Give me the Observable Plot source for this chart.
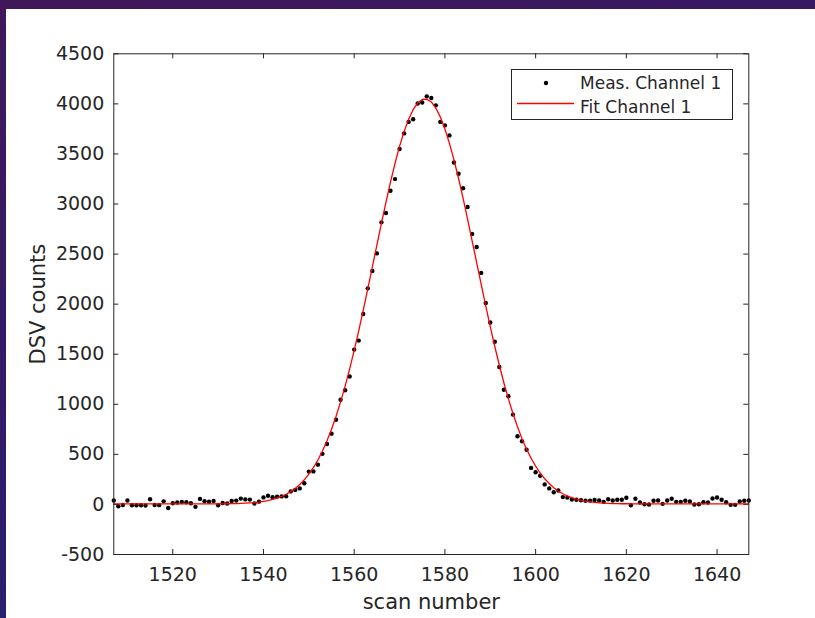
<!DOCTYPE html>
<html>
<head>
<meta charset="utf-8">
<script src="https://cdn.jsdelivr.net/npm/d3@7"></script>
<script src="https://cdn.jsdelivr.net/npm/@observablehq/plot@0.6"></script>
<style>
  html, body { margin: 0; padding: 0; }
  body {
    width: 815px; height: 618px; overflow: hidden; position: relative;
    background: linear-gradient(165deg, #40185a 0%, #33196a 45%, #1f2672 100%);
    font-family: "DejaVu Sans", sans-serif;
  }
  #panel { position: absolute; left: 6px; top: 9px; right: 0; bottom: 0; background: #fff; }
  #chart, #legend { position: absolute; left: 0; top: 0; }
  #legend { pointer-events: none; }
</style>
</head>
<body>
<div id="panel"></div>
<div id="chart"></div>
<svg id="legend" width="815" height="618"></svg>
<script>
// Scan range covered by the measurement
const scanFirst = 1507;
const scanLast = 1647;

// DSV counts per scan, channel 1 (1507 ... 1647)
const measured = [
  39, -18, -5,
  39, -8, -8, -8, -10, 52, -5, -7, 31, -36,
  12, 20, 25, 22, 12, -24, 55, 32, 28, 35,
  -8, 15, 10, 35, 38, 58, 50, 48, 10, 28,
  70, 86, 72, 78, 80, 82, 130, 145, 160, 211,
  328, 330, 397, 505, 603, 707, 845, 1045, 1140, 1278,
  1546, 1636, 1902, 2158, 2331, 2507, 2817, 2910, 3133, 3249,
  3549, 3705, 3820, 3846, 4003, 4013, 4075, 4058, 3985, 3820,
  3785, 3685, 3415, 3302, 3157, 2970, 2700, 2570, 2312, 2012,
  1817, 1625, 1372, 1145, 1080, 897, 681, 631, 546, 365,
  321, 287, 200, 160, 121, 139, 73, 68, 48, 47,
  42, 37, 38, 44, 39, 26, 52, 39, 46, 46,
  66, -8, 56, 19, 2, -1, 36, 39, 6, 39,
  56, 26, 26, 36, 29, -1, 2, 22, 19, 59,
  69, 46, 22, -4, -4, 29, 36, 39
];

// Fitted peak per scan, channel 1 (1507 ... 1647)
const fitted = [
  5, 5, 5,
  5, 5, 5, 5, 5, 5, 5, 5, 5, 5,
  5, 5, 5, 5, 5, 5, 5, 5, 5, 6,
  6, 6, 7, 8, 9, 11, 13, 16, 19, 24,
  31, 39, 50, 63, 81, 102, 128, 160, 199, 246,
  302, 368, 444, 533, 635, 750, 880, 1024, 1182, 1354,
  1538, 1734, 1940, 2153, 2370, 2589, 2807, 3017, 3218, 3405,
  3575, 3723, 3847, 3942, 4009, 4044, 4047, 4019, 3958, 3868,
  3749, 3606, 3441, 3257, 3058, 2849, 2633, 2415, 2197, 1983,
  1775, 1577, 1390, 1215, 1054, 908, 775, 657, 552, 461,
  382, 314, 256, 208, 167, 134, 107, 84, 67, 52,
  41, 32, 26, 20, 16, 13, 11, 9, 8, 7,
  7, 6, 5, 5, 5, 5, 5, 5, 5, 5,
  5, 5, 5, 5, 5, 5, 5, 5, 5, 5,
  5, 5, 5, 5, 5, 5, 5, 5
];

const xTicks = [1520, 1540, 1560, 1580, 1600, 1620, 1640];
const yTicks = [-500, 0, 500, 1000, 1500, 2000, 2500, 3000, 3500, 4000, 4500];
const xLabel = "scan number";
const yLabel = "DSV counts";
const seriesNames = ["Meas. Channel 1", "Fit Channel 1"];

const scans = d3.range(scanFirst, scanLast + 1);
const rows = scans.map((scan, i) => ({scan, meas: measured[i], fit: fitted[i]}));

const W = 815, H = 618;
const margin = {top: 53.3, right: 66.7, bottom: 64, left: 113.3};
const innerW = W - margin.left - margin.right;
const innerH = H - margin.top - margin.bottom;
const ink = "#262626";
const tickLen = 5;
const fmt = d => String(d);

const chart = Plot.plot({
  width: W,
  height: H,
  marginTop: margin.top,
  marginRight: margin.right,
  marginBottom: margin.bottom,
  marginLeft: margin.left,
  style: {background: "transparent", color: ink, fontFamily: "DejaVu Sans, sans-serif", overflow: "visible"},
  x: {domain: [scanFirst, scanLast]},
  y: {domain: [yTicks[0], yTicks[yTicks.length - 1]]},
  marks: [
    // inward ticks on all four sides of the box
    Plot.tickX(xTicks, {x: d => d, insetTop: innerH - tickLen, stroke: ink}),
    Plot.tickX(xTicks, {x: d => d, insetBottom: innerH - tickLen, stroke: ink}),
    Plot.tickY(yTicks, {y: d => d, insetRight: innerW - tickLen, stroke: ink}),
    Plot.tickY(yTicks, {y: d => d, insetLeft: innerW - tickLen, stroke: ink}),
    Plot.axisX(xTicks, {tickSize: 0, tickPadding: 13, fontSize: 19, tickFormat: fmt, label: null}),
    Plot.axisY(yTicks, {tickSize: 0, tickPadding: 9.5, fontSize: 19, tickFormat: fmt, label: null}),
    Plot.dot(rows, {x: "scan", y: "meas", r: 2.2, fill: "#000"}),
    Plot.line(rows, {x: "scan", y: "fit", stroke: "#ff0000", strokeWidth: 1.3}),
    Plot.frame({stroke: ink, strokeWidth: 1}),
    Plot.text([xLabel], {text: d => d, frameAnchor: "bottom", textAnchor: "middle", lineAnchor: "bottom", dy: 54, fontSize: 21, fill: ink}),
    Plot.text([yLabel], {text: d => d, frameAnchor: "left", textAnchor: "middle", lineAnchor: "middle", rotate: -90, dx: -76, fontSize: 21, fill: ink})
  ]
});
document.getElementById("chart").append(chart);

// Legend box (top right of the axes)
const lg = d3.select("#legend");
lg.append("rect").attr("x", 511.5).attr("y", 69.5).attr("width", 221).attr("height", 50)
  .attr("fill", "#fff").attr("stroke", ink).attr("stroke-width", 1);
lg.append("circle").attr("cx", 546).attr("cy", 83).attr("r", 2.2).attr("fill", "#000");
lg.append("line").attr("x1", 517).attr("x2", 574).attr("y1", 103.5).attr("y2", 103.5)
  .attr("stroke", "#ff0000").attr("stroke-width", 1.3);
lg.selectAll("text.name").data(seriesNames).join("text")
  .attr("class", "name")
  .attr("x", 580)
  .attr("y", (d, i) => 88.5 + i * 24)
  .attr("font-family", "DejaVu Sans, sans-serif")
  .attr("font-size", 17)
  .attr("fill", ink)
  .text(d => d);
</script>
</body>
</html>
